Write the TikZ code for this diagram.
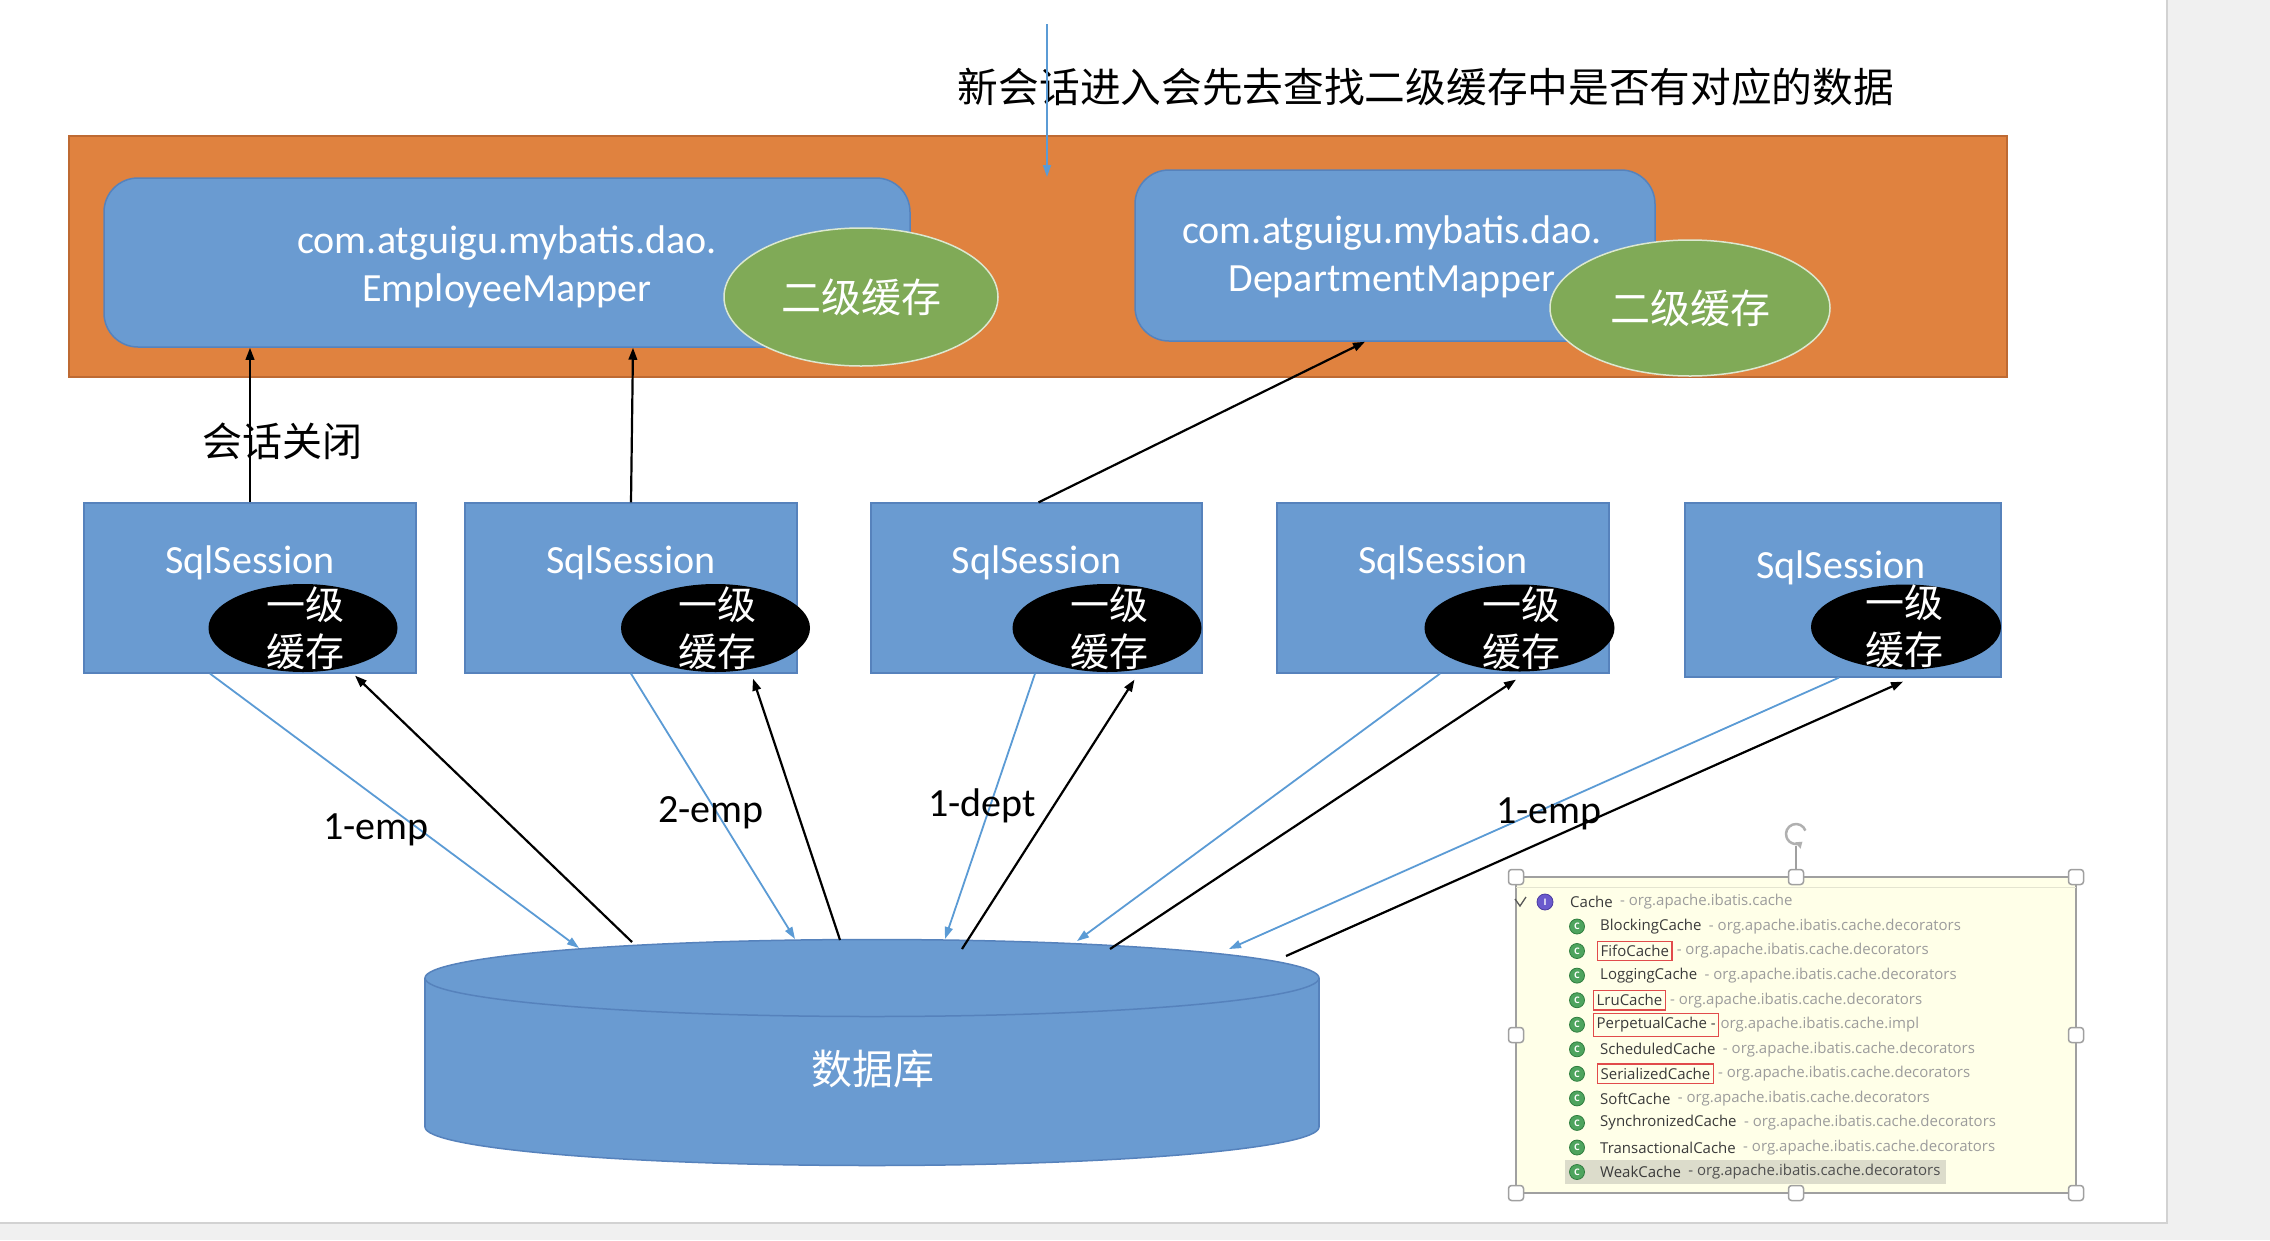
\documentclass[tikz,border=0pt]{standalone}
\usepackage{fontspec}
\setmainfont{Carlito}
\newfontfamily\cjk{Noto Sans CJK SC}
\newfontfamily\uifont{Open Sans}
\usetikzlibrary{shapes.geometric,arrows.meta,calc}
\definecolor{pagebg}{HTML}{F0F0F0}
\definecolor{pageline}{HTML}{D2D2D2}
\definecolor{orangefill}{HTML}{E0823F}
\definecolor{orangeline}{HTML}{BE6A33}
\definecolor{bluefill}{HTML}{6A9BD1}
\definecolor{blueline}{HTML}{5682BC}
\definecolor{greenfill}{HTML}{80AA57}
\definecolor{greenline}{HTML}{DCE8D0}
\definecolor{arrowblue}{HTML}{5B9BD5}
\definecolor{panelfill}{HTML}{FFFFE8}
\definecolor{panelline}{HTML}{A0A0A0}
\definecolor{stripline}{HTML}{E4E4D0}
\definecolor{nametext}{HTML}{3A3A3A}
\definecolor{pkgtext}{HTML}{9C9C9C}
\definecolor{selpkg}{HTML}{505050}
\definecolor{icongreen}{HTML}{4EA45E}
\definecolor{icongreendark}{HTML}{2F7D3E}
\definecolor{iconpurple}{HTML}{6A5ACD}
\definecolor{iconpurpledark}{HTML}{4A3AA0}
\definecolor{redframe}{HTML}{E14B4B}
\definecolor{selbg}{HTML}{DCDCCB}
\definecolor{rotgray}{HTML}{B0B0B0}
\tikzset{
  mapperbox/.style={draw=blueline, line width=1.5pt, fill=bluefill, rounded corners=34pt, inner sep=0pt},
  cachetwo/.style={ellipse, draw=greenline, line width=1.5pt, fill=greenfill, inner sep=0pt, text=white, font=\cjk\fontsize{40}{48}\selectfont},
  sessbox/.style={draw=blueline, line width=1.2pt, fill=bluefill, inner sep=0pt},
  cacheone/.style={ellipse, fill=black, inner sep=0pt},
  cacheonetext/.style={text=white, align=center, inner sep=0pt, font=\cjk\fontsize{39}{47}\selectfont},
  whitetext/.style={text=white, font=\fontsize{40}{48}\selectfont, align=center, inner sep=0pt},
  blacklabel/.style={text=black, font=\fontsize{40}{48}\selectfont, inner sep=0pt},
  cjklabel/.style={text=black, font=\cjk\fontsize{40}{48}\selectfont, inner sep=0pt},
  upline/.style={draw=black, line width=2.2pt, -{Triangle[length=12pt,width=8.5pt]}},
  downline/.style={draw=arrowblue, line width=1.8pt, -{Triangle[length=12pt,width=8pt]}},
  nm/.style={anchor=west, inner xsep=3pt, inner ysep=4pt, text=nametext, font=\uifont\fontsize{15}{18}\selectfont},
  rednm/.style={nm, draw=redframe, line width=1.3pt},
  pk/.style={anchor=west, inner xsep=4pt, inner ysep=4pt, text=pkgtext, font=\uifont\fontsize{15}{18}\selectfont},
  gicon/.style={circle, fill=icongreen, draw=icongreendark, line width=0.8pt, minimum size=15pt, inner sep=0pt, text=white, font=\uifont\bfseries\fontsize{9}{9}\selectfont},
  picon/.style={circle, fill=iconpurple, draw=iconpurpledark, line width=0.8pt, minimum size=16pt, inner sep=0pt, text=white, font=\uifont\bfseries\fontsize{9}{9}\selectfont},
  handle/.style={draw=panelline, fill=white, line width=1.5pt, rounded corners=3pt, minimum size=15pt, inner sep=0pt}
}
\begin{document}
\begin{tikzpicture}[x=1pt,y=-1pt]
% page
\fill[pagebg] (0,0) rectangle (2270,1240);
\useasboundingbox (0,0) rectangle (2270,1240);
\fill[white] (0,0) rectangle (2167,1223);
\draw[pageline, line width=2pt] (2167,0) -- (2167,1223) -- (0,1223);

% second-level cache area
\node[draw=orangeline, line width=1.5pt, fill=orangefill, minimum width=1938pt, minimum height=241pt, inner sep=0pt] (area) at (1038,256.5) {};

\node[mapperbox, minimum width=806pt, minimum height=169pt] (m1) at (507,262.5) {};
\node[whitetext] (m1t) at (507,267) {com.atguigu.mybatis.dao.\\EmployeeMapper};
\node[cachetwo, minimum width=274pt, minimum height=138pt] (c2a) at (861,297) {二级缓存};

\node[mapperbox, minimum width=520pt, minimum height=171pt] (m2) at (1395,255.5) {};
\node[whitetext] (m2t) at (1392,257) {com.atguigu.mybatis.dao.\\DepartmentMapper};
\node[cachetwo, minimum width=280pt, minimum height=136pt] (c2b) at (1690,308) {二级缓存};

% title and incoming arrow
\node[cjklabel, font=\cjk\fontsize{40.7}{48}\selectfont] (title) at (1426,87) {新会话进入会先去查找二级缓存中是否有对应的数据};
\coordinate (newin) at (1047,24);
\coordinate (newend) at (1047,177);
\draw[downline] (newin) -- (newend);

% sessions
\node[sessbox, minimum width=332pt, minimum height=170pt] (s1) at (250,588) {};
\node[sessbox, minimum width=332pt, minimum height=170pt] (s2) at (631,588) {};
\node[sessbox, minimum width=331pt, minimum height=170pt] (s3) at (1036.5,588) {};
\node[sessbox, minimum width=332pt, minimum height=170pt] (s4) at (1443,588) {};
\node[sessbox, minimum width=316pt, minimum height=174pt] (s5) at (1843,590) {};

\node[cacheone, minimum width=189pt, minimum height=88pt] (e1) at (303,628) {};
\node[cacheone, minimum width=189pt, minimum height=88pt] (e2) at (715.5,628) {};
\node[cacheone, minimum width=189pt, minimum height=88pt] (e3) at (1107,628) {};
\node[cacheone, minimum width=190pt, minimum height=87pt] (e4) at (1519.5,628) {};
\node[cacheone, minimum width=190pt, minimum height=85pt] (e5) at (1906,627) {};

\node[whitetext] (s1t) at (250,563) {SqlSession};
\node[whitetext] (s2t) at (631,563) {SqlSession};
\node[whitetext] (s3t) at (1036.5,563) {SqlSession};
\node[whitetext] (s4t) at (1443,563) {SqlSession};
\node[whitetext] (s5t) at (1841,568) {SqlSession};

\node[cacheonetext] (e1t) at (305,628) {一级\\缓存};
\node[cacheonetext] (e2t) at (717,628) {一级\\缓存};
\node[cacheonetext] (e3t) at (1109,628) {一级\\缓存};
\node[cacheonetext] (e4t) at (1521,628) {一级\\缓存};
\node[cacheonetext] (e5t) at (1904,626) {一级\\缓存};

% session close arrows
\draw[upline] (s1.north) -- (s1.north |- m1.south);
\draw[upline] (s2.north) -- ([xshift=2pt]s2.north |- m1.south);
\draw[upline] ([xshift=2pt]s3.north) -- ([xshift=-30pt]m2.south);
\node[cjklabel] (closelbl) at (282,441) {会话关闭};

% database
\node[inner sep=0pt, minimum width=894pt, minimum height=226pt] (db) at (872,1053) {};
\draw[blueline, line width=1.5pt, fill=bluefill] (872,1127) ellipse [x radius=447, y radius=38.5];
\fill[bluefill] (db.west |- 0,978) rectangle (db.east |- 0,1127);
\draw[blueline, line width=1.5pt] (db.west |- 0,978) -- (db.west |- 0,1127);
\draw[blueline, line width=1.5pt] (db.east |- 0,978) -- (db.east |- 0,1127);
\draw[blueline, line width=1.5pt, fill=bluefill] (872,978) ellipse [x radius=447, y radius=38.5];
\node[text=white, font=\cjk\fontsize{41}{48}\selectfont, inner sep=0pt] (dbt) at (873,1069) {数据库};

% query arrows
\coordinate (p1) at (579,948);  \coordinate (q1) at (632,942);
\coordinate (p2) at (795,939);  \coordinate (q2) at (840,940);
\coordinate (p3) at (945,939);  \coordinate (q3) at (962,949);
\coordinate (p4) at (1077,941); \coordinate (q4) at (1110,949);
\coordinate (p5) at (1229,949); \coordinate (q5) at (1286,956);
\draw[downline] ([xshift=-40pt]s1.south) -- (p1);
\draw[upline] (q1) -- ([xshift=105pt,yshift=-2pt]s1.south);
\draw[downline] (s2.south) -- (p2);
\draw[upline] (q2) -- ([xshift=122pt,yshift=-5pt]s2.south);
\draw[downline] ([xshift=-1.5pt]s3.south) -- (p3);
\draw[upline] (q3) -- ([xshift=98pt,yshift=-6pt]s3.south);
\draw[downline] ([xshift=-3pt]s4.south) -- (p4);
\draw[upline] (q4) -- ([xshift=73pt,yshift=-6pt]s4.south);
\draw[downline] ([xshift=-4pt]s5.south) -- (p5);
\draw[upline] (q5) -- ([xshift=60pt,yshift=-4pt]s5.south);

\node[blacklabel] (l1) at (376,830) {1-emp};
\node[blacklabel] (l2) at (711,813) {2-emp};
\node[blacklabel] (l3) at (982,806) {1-dept};
\node[blacklabel] (l4) at (1549,814) {1-emp};

% screenshot panel
\node[draw=panelline, fill=panelfill, line width=2pt, minimum width=560pt, minimum height=316pt, inner sep=0pt] (panel) at (1796,1035) {};
\draw[stripline, line width=1pt] ([xshift=1pt]panel.north west |- 0,887) -- ([xshift=-1pt]panel.north east |- 0,887);
\fill[selbg] (1565,1160) rectangle (1946,1184);

\draw[black!65, line width=1.3pt] (1515,899) -- (1520,906) -- (1526,897);
\node[picon] (i0) at (1545,902) {I};
\node[nm] (n0) at (1567,902) {Cache};
\node[pk] (k0) at (n0.east) {- org.apache.ibatis.cache};

\node[gicon] (g1) at (1577,926.5) {C};
\node[nm] (n1) at (1597,926.5) {BlockingCache};
\node[pk] (k1) at (n1.east) {- org.apache.ibatis.cache.decorators};

\node[gicon] (g2) at (1577,951) {C};
\node[rednm] (n2) at (1597,951) {FifoCache};
\node[pk] (k2) at (n2.east) {- org.apache.ibatis.cache.decorators};

\node[gicon] (g3) at (1577,975.6) {C};
\node[nm] (n3) at (1597,975.6) {LoggingCache};
\node[pk] (k3) at (n3.east) {- org.apache.ibatis.cache.decorators};

\node[gicon] (g4) at (1577,1000.2) {C};
\node[rednm] (n4) at (1593,1000.2) {LruCache};
\node[pk] (k4) at (n4.east) {- org.apache.ibatis.cache.decorators};

\node[gicon] (g5) at (1577,1024.7) {C};
\node[rednm] (n5) at (1593,1024.7) {PerpetualCache -};
\node[pk, inner xsep=1pt] (k5) at (n5.east) {org.apache.ibatis.cache.impl};

\node[gicon] (g6) at (1577,1049.3) {C};
\node[nm] (n6) at (1597,1049.3) {ScheduledCache};
\node[pk] (k6) at (n6.east) {- org.apache.ibatis.cache.decorators};

\node[gicon] (g7) at (1577,1073.8) {C};
\node[rednm] (n7) at (1597,1073.8) {SerializedCache};
\node[pk] (k7) at (n7.east) {- org.apache.ibatis.cache.decorators};

\node[gicon] (g8) at (1577,1098.4) {C};
\node[nm] (n8) at (1597,1098.4) {SoftCache};
\node[pk] (k8) at (n8.east) {- org.apache.ibatis.cache.decorators};

\node[gicon] (g9) at (1577,1122.9) {C};
\node[nm] (n9) at (1597,1122.9) {SynchronizedCache};
\node[pk] (k9) at (n9.east) {- org.apache.ibatis.cache.decorators};

\node[gicon] (g10) at (1577,1147.5) {C};
\node[nm] (n10) at (1597,1147.5) {TransactionalCache};
\node[pk] (k10) at (n10.east) {- org.apache.ibatis.cache.decorators};

\node[gicon] (g11) at (1577,1172) {C};
\node[nm] (n11) at (1597,1172) {WeakCache};
\node[pk, text=selpkg] (k11) at (n11.east) {- org.apache.ibatis.cache.decorators};

% selection handles
\foreach \hx/\hy [count=\k] in {1516/877, 1796/877, 2076/877, 1516/1035, 2076/1035, 1516/1193, 1796/1193, 2076/1193}
  \node[handle] (h\k) at (\hx,\hy) {};
\node[circle, minimum size=24pt, inner sep=0pt] (rot) at (1796,834) {};
\draw[panelline, line width=1.5pt] (h2.north) -- (rot.south);
\draw[rotgray, line width=2.5pt, -{Triangle[length=6pt,width=8pt]}] (rot.center) ++(-20:10) arc[start angle=-20, end angle=-310, radius=10];
\end{tikzpicture}
\end{document}
